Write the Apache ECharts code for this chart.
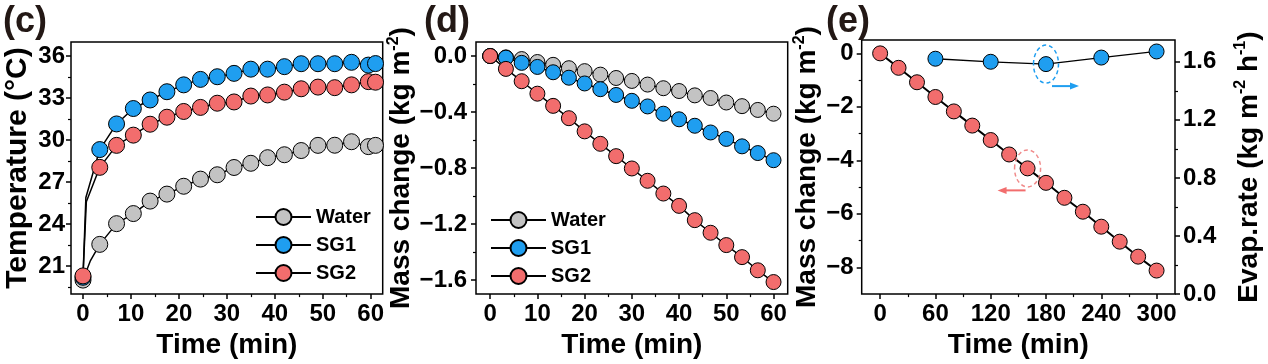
<!DOCTYPE html>
<html><head><meta charset="utf-8">
<script src="https://cdn.jsdelivr.net/npm/echarts@6/dist/echarts.min.js"></script>
<style>html,body{margin:0;padding:0;background:#fff}#main{width:1268px;height:364px}</style>
</head><body><div id="main"></div>
<script>
// ---------- data ----------
const seriesNames = ['Water', 'SG1', 'SG2'];

// (c) temperature vs time
const cTime = [0, 3.5, 7, 10.5, 14, 17.5, 21, 24.5, 28, 31.5, 35, 38.5, 42, 45.5, 49, 52.5, 56, 59.5, 61];
const cWater = [20.0, 22.55, 24.03, 24.75, 25.64, 26.14, 26.7, 27.21, 27.52, 28.04, 28.34, 28.74, 28.95, 29.25, 29.62, 29.63, 29.88, 29.53, 29.62];
const cSG1 = [20.2, 29.32, 31.15, 32.25, 32.86, 33.45, 33.94, 34.33, 34.52, 34.76, 35.06, 35.06, 35.24, 35.45, 35.45, 35.45, 35.55, 35.35, 35.46];
const cSG2 = [20.3, 28.05, 29.62, 30.35, 31.13, 31.63, 32.04, 32.33, 32.63, 32.72, 33.14, 33.22, 33.42, 33.66, 33.78, 33.74, 33.94, 34.17, 34.13];
const cWaterRise = [1.5, 21.35];
const cSG1Rise = [0.6, 25.9];
const cSG2Rise = [0.7, 25.6];

// (d) mass change vs time
const dTime = [0, 3.33, 6.67, 10, 13.33, 16.67, 20, 23.33, 26.67, 30, 33.33, 36.67, 40, 43.33, 46.67, 50, 53.33, 56.67, 60];
const dWater = [0, -0.01, -0.022, -0.043, -0.063, -0.087, -0.108, -0.133, -0.157, -0.178, -0.204, -0.23, -0.25, -0.281, -0.3, -0.332, -0.358, -0.385, -0.412];
const dSG1 = [0, -0.012, -0.049, -0.078, -0.116, -0.155, -0.196, -0.237, -0.278, -0.32, -0.36, -0.412, -0.452, -0.498, -0.546, -0.592, -0.645, -0.693, -0.744];
const dSG2 = [0, -0.092, -0.18, -0.269, -0.356, -0.444, -0.538, -0.627, -0.715, -0.803, -0.891, -0.982, -1.07, -1.172, -1.262, -1.35, -1.436, -1.53, -1.614];

// (e) long-term mass change and evaporation rate
const eTime = [0, 20, 40, 60, 80, 100, 120, 140, 160, 180, 200, 220, 240, 260, 280, 300];
const eMass = [0, -0.54, -1.08, -1.63, -2.17, -2.7, -3.24, -3.78, -4.3, -4.84, -5.4, -5.92, -6.48, -7.04, -7.6, -8.12];
const eRateTime = [60, 120, 180, 240, 300];
const eRate = [1.621, 1.6, 1.584, 1.629, 1.671];

// ticks
const cXTicks = [0, 10, 20, 30, 40, 50, 60];
const cXMinor = [5, 15, 25, 35, 45, 55];
const cYTicks = [21, 24, 27, 30, 33, 36];
const cYMinor = [19.5, 22.5, 25.5, 28.5, 31.5, 34.5];
const dYTicks = [0, -0.4, -0.8, -1.2, -1.6];
const dYMinor = [-0.2, -0.6, -1.0, -1.4];
const eXTicks = [0, 60, 120, 180, 240, 300];
const eXMinor = [30, 90, 150, 210, 270];
const eYTicks = [0, -2, -4, -6, -8];
const eYMinor = [-1, -3, -5, -7];
const eRTicks = [0, 0.4, 0.8, 1.2, 1.6];
const eRMinor = [0.2, 0.6, 1.0, 1.4];

// ---------- style ----------
const FONT = '"Liberation Sans", Arial, sans-serif';
const colors = { Water: '#c3c3c3', SG1: '#1f9ef0', SG2: '#f26d6d' };
const TICK_FS = 24, NAME_FS = 28;
const minus = v => (v < 0 ? '\u2212' : '') + Math.abs(v);
const noLine = { show: false, onZero: false };

function xPair(g, min, max, majors, minors, name, gap) {
  return [{
    type: 'value', gridIndex: g, min: min, max: max, position: 'bottom',
    axisLine: noLine, splitLine: { show: false },
    axisTick: { show: true, length: 5, customValues: majors, lineStyle: { color: '#000', width: 1.5 } },
    axisLabel: { customValues: majors, margin: 8, color: '#000', fontSize: TICK_FS, fontWeight: 'bold', fontFamily: FONT },
    name: name, nameLocation: 'middle', nameGap: gap,
    nameTextStyle: { color: '#000', fontSize: NAME_FS, fontWeight: 'bold', fontFamily: FONT }
  }, {
    type: 'value', gridIndex: g, min: min, max: max, position: 'bottom',
    axisLine: noLine, splitLine: { show: false }, axisLabel: { show: false },
    axisTick: { show: true, length: 3, customValues: minors, lineStyle: { color: '#000', width: 1.2 } }
  }];
}
function yPair(g, min, max, majors, minors, pos, fmt, name, gap, margin, nameSize) {
  return [{
    type: 'value', gridIndex: g, min: min, max: max, position: pos,
    axisLine: noLine, splitLine: { show: false },
    axisTick: { show: true, length: 5, customValues: majors, lineStyle: { color: '#000', width: 1.5 } },
    axisLabel: { customValues: majors, margin: margin, color: '#000', fontSize: TICK_FS, fontWeight: 'bold', fontFamily: FONT, formatter: fmt },
    name: name, nameLocation: 'middle', nameGap: gap,
    nameTextStyle: {
      color: '#000', fontSize: nameSize, fontWeight: 'bold', fontFamily: FONT,
      rich: { sup: { fontSize: 16, fontWeight: 'bold', fontFamily: FONT, color: '#000', verticalAlign: 'top', lineHeight: 32 } }
    }
  }, {
    type: 'value', gridIndex: g, min: min, max: max, position: pos,
    axisLine: noLine, splitLine: { show: false }, axisLabel: { show: false },
    axisTick: { show: true, length: 3, customValues: minors, lineStyle: { color: '#000', width: 1.2 } }
  }];
}

function pairs(xs, ys) { return xs.map((x, i) => [x, ys[i]]); }
function withRise(xs, ys, rise) {
  const d = pairs(xs, ys);
  d.splice(1, 0, { value: rise, symbol: 'none' });
  return d;
}
function lineSeries(name, data, xi, yi, size, lw, col) {
  return {
    type: 'line', name: name, xAxisIndex: xi, yAxisIndex: yi, data: data,
    symbol: 'circle', symbolSize: size, showSymbol: true, animation: false,
    lineStyle: { color: '#000', width: lw },
    itemStyle: { color: col || colors[name], borderColor: '#000', borderWidth: 1 },
    emphasis: { disabled: true }
  };
}

const gridBase = { show: true, borderColor: '#000', borderWidth: 1.5, backgroundColor: 'transparent', containLabel: false };
const legendBase = {
  orient: 'vertical', itemWidth: 55, itemHeight: 20, itemGap: 8, padding: 0,
  textStyle: { color: '#000', fontSize: 20, fontWeight: 'bold', fontFamily: FONT },
  data: seriesNames, selectedMode: false
};

const xAxes = [].concat(
  xPair(0, -2.5, 62.5, cXTicks, cXMinor, 'Time (min)', 34),
  xPair(1, -3, 63, cXTicks, cXMinor, 'Time (min)', 34),
  xPair(2, -20, 320, eXTicks, eXMinor, 'Time (min)', 34)
);
const yAxes = [].concat(
  yPair(0, 19, 37, cYTicks, cYMinor, 'left', v => String(v), 'Temperature (°C)', 38, 6, 30),
  yPair(1, -1.7, 0.1, dYTicks, dYMinor, 'left', v => v === 0 ? '0.0' : '\u2212' + Math.abs(v).toFixed(1), 'Mass change (kg m{sup|-2})', 58, 9, 28),
  yPair(2, -9, 0.5, eYTicks, eYMinor, 'left', v => minus(v), 'Mass change (kg m{sup|-2})', 38, 8, 28),
  yPair(2, 0, 1.75, eRTicks, eRMinor, 'right', v => v.toFixed(1), 'Evap.rate (kg m{sup|-2} h{sup|-1})', 58, 8, 28)
);

const series = [
  lineSeries('Water', withRise(cTime, cWater, cWaterRise), 0, 0, 16, 1.5),
  lineSeries('SG1', withRise(cTime, cSG1, cSG1Rise), 0, 0, 16, 1.5),
  lineSeries('SG2', withRise(cTime, cSG2, cSG2Rise), 0, 0, 16, 1.5),
  lineSeries('Water', pairs(dTime, dWater), 2, 2, 15, 1.5),
  lineSeries('SG1', pairs(dTime, dSG1), 2, 2, 15, 1.5),
  lineSeries('SG2', pairs(dTime, dSG2), 2, 2, 15, 1.5),
  lineSeries('e-mass', pairs(eTime, eMass), 4, 4, 15, 2, colors.SG2),
  lineSeries('e-rate', pairs(eRateTime, eRate), 4, 6, 15, 1.3, colors.SG1)
];

const letterStyle = { color: '#231815', fontSize: 36, fontWeight: 'bold', fontFamily: FONT };

const chart = echarts.init(document.getElementById('main'), null, { renderer: 'canvas' });
chart.setOption({
  backgroundColor: '#fff',
  animation: false,
  title: [
    { text: '(c)', left: 3, top: 4, padding: 0, textStyle: letterStyle },
    { text: '(d)', left: 424, top: 4, padding: 0, textStyle: letterStyle },
    { text: '(e)', left: 826, top: 4, padding: 0, textStyle: letterStyle }
  ],
  grid: [
    Object.assign({ left: 71, top: 42, width: 311.7, height: 257 }, gridBase),
    Object.assign({ left: 476, top: 42, width: 311.7, height: 257 }, gridBase),
    Object.assign({ left: 861.7, top: 40, width: 313.3, height: 257.7 }, gridBase)
  ],
  legend: [
    Object.assign({ left: 255, top: 207 }, legendBase),
    Object.assign({ left: 490, top: 210 }, legendBase)
  ],
  xAxis: xAxes,
  yAxis: yAxes,
  series: series
});

// annotations in (e): dashed ellipses and arrows placed through the chart's scales
const pB = chart.convertToPixel({ seriesIndex: 7 }, [eRateTime[2], eRate[2]]);
const pR = chart.convertToPixel({ seriesIndex: 6 }, [eTime[8], eMass[8]]);
const blue = colors.SG1, red = colors.SG2;
function arrow(x0, y, x1, col) {
  const dir = x1 > x0 ? 1 : -1;
  return [
    { type: 'line', shape: { x1: x0, y1: y, x2: x1 - dir * 6, y2: y }, style: { stroke: col, lineWidth: 2 }, z: 100 },
    { type: 'polygon', shape: { points: [[x1, y], [x1 - dir * 9, y - 3.5], [x1 - dir * 9, y + 3.5]] }, style: { fill: col }, z: 100 }
  ];
}
chart.setOption({
  graphic: [
    { type: 'ellipse', shape: { cx: pB[0], cy: pB[1], rx: 12.5, ry: 19 }, style: { fill: 'none', stroke: blue, lineWidth: 1.5, lineDash: [4, 3] }, z: 100 },
    { type: 'ellipse', shape: { cx: pR[0], cy: pR[1], rx: 13, ry: 18.5 }, style: { fill: 'none', stroke: '#f08a8a', lineWidth: 1.5, lineDash: [4, 3] }, z: 100 }
  ].concat(arrow(pB[0] + 6, pB[1] + 22, pB[0] + 33, blue), arrow(pR[0] - 2, pR[1] + 22, pR[0] - 30, red))
});
</script>
</body></html>
